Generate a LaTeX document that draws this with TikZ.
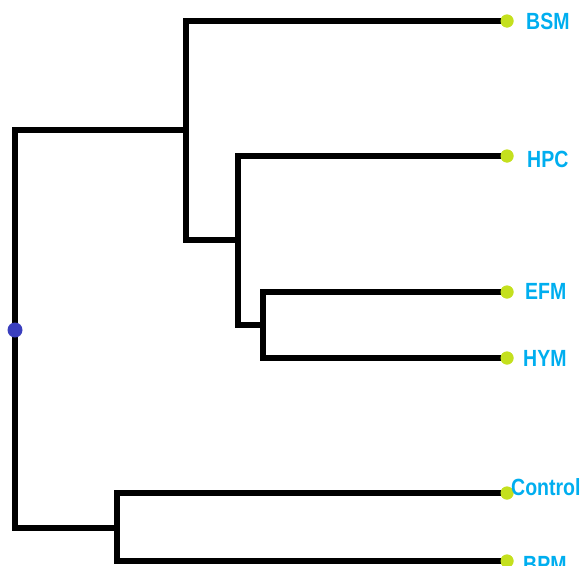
\documentclass[tikz,border=0pt]{standalone}
\usepackage{fontspec}
\setmainfont{Liberation Sans}
\definecolor{lblue}{RGB}{0,174,239}
\definecolor{leafc}{RGB}{196,224,30}
\definecolor{rootc}{RGB}{58,63,190}
\begin{document}
\begin{tikzpicture}[x=1pt,y=-1pt,
  branch/.style={line width=6pt, line cap=rect, black},
  leafdot/.style={circle, fill=leafc, inner sep=0pt, minimum size=13pt},
  rootdot/.style={circle, fill=rootc, inner sep=0pt, minimum size=15pt},
  lab/.style={anchor=west, inner sep=0pt, text=lblue, font=\fontsize{19.5}{19.5}\selectfont\bfseries, yscale=1.2}]
\useasboundingbox (0,0) rectangle (581,565);
% internal coordinates
\coordinate (r1) at (15,130);
\coordinate (r2) at (15,528);
\coordinate (a) at (186,130);
\coordinate (a1) at (186,21);
\coordinate (a2) at (186,240);
\coordinate (b) at (238,240);
\coordinate (b1) at (238,156);
\coordinate (b2) at (238,325);
\coordinate (c) at (263,325);
\coordinate (c1) at (263,292);
\coordinate (c2) at (263,358);
\coordinate (d) at (117,528);
\coordinate (d1) at (117,493);
\coordinate (d2) at (117,561);
% leaves
\node[leafdot] (bsm) at (507,21) {};
\node[leafdot] (hpc) at (507,156) {};
\node[leafdot] (efm) at (507,292) {};
\node[leafdot] (hym) at (507,358) {};
\node[leafdot] (ctl) at (507,493) {};
\node[leafdot] (bpm) at (507,561) {};
% branches
\draw[branch] (r1) -- (r2);
\draw[branch] (r1) -- (a);
\draw[branch] (a1) -- (a2);
\draw[branch] (a1) -- (bsm.center);
\draw[branch] (a2) -- (b);
\draw[branch] (b1) -- (b2);
\draw[branch] (b1) -- (hpc.center);
\draw[branch] (b2) -- (c);
\draw[branch] (c1) -- (c2);
\draw[branch] (c1) -- (efm.center);
\draw[branch] (c2) -- (hym.center);
\draw[branch] (r2) -- (d);
\draw[branch] (d1) -- (d2);
\draw[branch] (d1) -- (ctl.center);
\draw[branch] (d2) -- (bpm.center);
% redraw dots on top
\foreach \n in {bsm,hpc,efm,hym,ctl,bpm}{\fill[leafc] (\n) circle (6.5pt);}
\node[rootdot] (root) at (15,330) {};
% labels
\node[lab] (lbsm) at (526,21) {BSM};
\node[lab] (lhpc) at (527,159) {HPC};
\node[lab] (lefm) at (525,291) {EFM};
\node[lab] (lhym) at (523,358) {HYM};
\node[lab] (lctl) at (511,487) {Control};
\node[lab] (lbpm) at (523,564) {BPM};
\end{tikzpicture}
\end{document}
